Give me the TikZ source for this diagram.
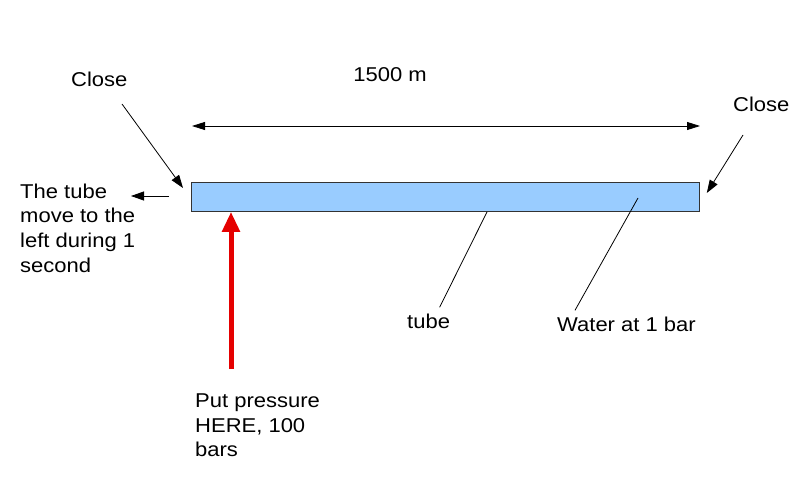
\documentclass[tikz,border=0pt]{standalone}
\usepackage{fontspec}
\setmainfont{Liberation Sans}[FakeStretch=1.1]
\usetikzlibrary{arrows.meta}
\usetikzlibrary{positioning}

\definecolor{water}{RGB}{153,204,255}

\begin{document}
\begin{tikzpicture}[x=1pt, y=-1pt]

    \tikzset{
        label-text/.style={font=\fontsize{20}{24.7}\selectfont, inner sep=0pt},
        block-text/.style={label-text, align=left, anchor=north west},
    }
    \tikzstyle{tube-box}   = [draw=black!80, fill=water, line width=0.8pt];
    \tikzstyle{thin-arrow} = [line width=0.8pt, -{Triangle[length=13pt, width=9pt]}];
    \tikzstyle{dim-arrow}  = [line width=0.8pt, {Triangle[length=13pt, width=8pt]}-{Triangle[length=13pt, width=8pt]}];
    \tikzstyle{push-arrow} = [line width=5pt, red!90!black, -{Triangle[length=20pt, width=17pt]}];
    \tikzstyle{pointer}    = [line width=0.8pt];

    \useasboundingbox (0,0) rectangle (800,489);

    %
    % Tube
    %
    \node[tube-box, minimum width=508pt, minimum height=29pt, anchor=north west, inner sep=0pt] (tube) at (191,182) {};

    %
    % Length
    %
    \coordinate (dim-l) at (192,126);
    \coordinate (dim-r) at (700,126);
    \draw[dim-arrow] (dim-l) -- (dim-r);
    \node[label-text, anchor=base] (length) at (390,82) {1500 m};

    %
    % Closed ends
    %
    \node[label-text, anchor=base west] (close-l) at (71,87) {Close};
    \node[label-text, anchor=base west] (close-r) at (733,112) {Close};
    \coordinate (close-l-from) at (122,104);
    \coordinate (close-r-from) at (743,135);
    \draw[thin-arrow] (close-l-from) -- ([xshift=-8pt, yshift=-6pt]tube.north west);
    \draw[thin-arrow] (close-r-from) -- ([xshift=7pt, yshift=-11pt]tube.north east);

    %
    % Movement
    %
    \node[block-text] (move) at (20,183.5) {The tube\\move to the\\left during 1\\second};
    \coordinate (move-from) at (169,196);
    \coordinate (move-to)   at (131,196);
    \draw[thin-arrow] (move-from) -- (move-to);

    %
    % Pressure
    %
    \node[block-text] (pressure) at (195,393.5) {Put pressure\\HERE, 100\\bars};
    \coordinate (push-from) at (231,369);
    \draw[push-arrow] (push-from) -- (tube.south west -| push-from);

    %
    % Labels
    %
    \node[label-text, anchor=base west] (tube-label)  at (407,328) {tube};
    \node[label-text, anchor=base west] (water-label) at (557,331) {Water at 1 bar};
    \coordinate (tube-pt)  at (487,212);
    \coordinate (water-pt) at (638,198);
    \draw[pointer] (tube-label.north) ++(11,-6) -- (tube-pt);
    \draw[pointer] (water-label.north west) ++(18,-6) -- (water-pt);

\end{tikzpicture}
\end{document}
